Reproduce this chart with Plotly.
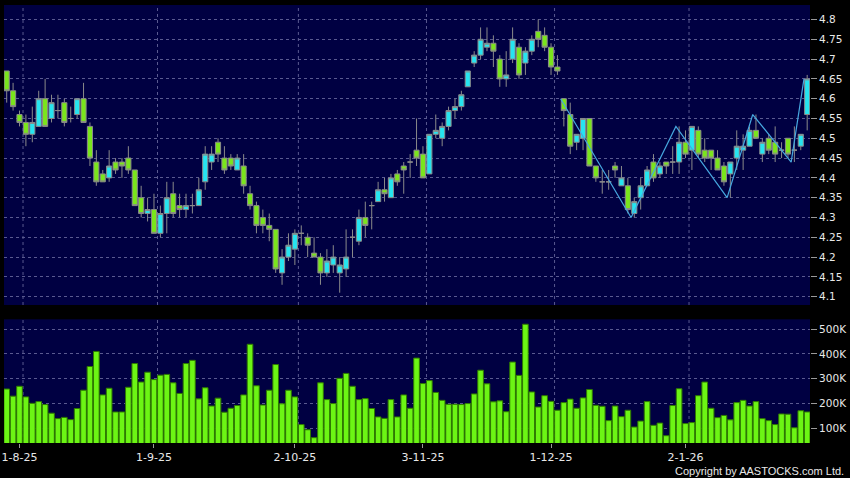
import plotly.graph_objects as go

# ---------------- data ----------------
opens = [4.67, 4.62, 4.56, 4.54, 4.51, 4.53, 4.60, 4.55, 4.57, 4.59,
         4.55, 4.56, 4.60, 4.53, 4.44, 4.41, 4.40, 4.44, 4.44, 4.45,
         4.42, 4.35, 4.31, 4.32, 4.26, 4.31, 4.36, 4.33, 4.32, 4.33,
         4.33, 4.39, 4.44, 4.49, 4.45, 4.45, 4.42, 4.43, 4.36, 4.33,
         4.30, 4.28, 4.27, 4.16, 4.20, 4.22, 4.26, 4.25, 4.21, 4.20,
         4.16, 4.18, 4.16, 4.17, 4.25, 4.24, 4.30, 4.33, 4.34, 4.37,
         4.35, 4.41, 4.43, 4.44, 4.47, 4.46, 4.41, 4.51, 4.50, 4.53,
         4.57, 4.58, 4.63, 4.69, 4.71, 4.73, 4.74, 4.70, 4.65, 4.70,
         4.73, 4.69, 4.72, 4.77, 4.76, 4.73, 4.68, 4.60, 4.56, 4.49,
         4.50, 4.55, 4.43, 4.39, 4.39, 4.43, 4.38, 4.38, 4.31, 4.35,
         4.38, 4.44, 4.41, 4.44, 4.44, 4.44, 4.49, 4.47, 4.52, 4.47,
         4.47, 4.45, 4.43, 4.41, 4.45, 4.47, 4.48, 4.52, 4.46, 4.50,
         4.49, 4.47, 4.50, 4.47, 4.48, 4.56]
highs = [4.67, 4.64, 4.57, 4.56, 4.58, 4.62, 4.65, 4.61, 4.61, 4.60,
         4.58, 4.60, 4.64, 4.54, 4.47, 4.42, 4.47, 4.45, 4.45, 4.48,
         4.42, 4.38, 4.35, 4.36, 4.33, 4.39, 4.39, 4.36, 4.36, 4.36,
         4.40, 4.48, 4.48, 4.50, 4.48, 4.46, 4.46, 4.46, 4.38, 4.34,
         4.32, 4.31, 4.27, 4.22, 4.26, 4.27, 4.28, 4.26, 4.25, 4.21,
         4.22, 4.23, 4.20, 4.27, 4.27, 4.32, 4.34, 4.34, 4.39, 4.40,
         4.41, 4.42, 4.44, 4.46, 4.55, 4.48, 4.51, 4.56, 4.54, 4.58,
         4.60, 4.62, 4.67, 4.72, 4.78, 4.78, 4.76, 4.71, 4.72, 4.78,
         4.74, 4.73, 4.76, 4.80, 4.78, 4.74, 4.71, 4.60, 4.59, 4.51,
         4.55, 4.55, 4.43, 4.42, 4.42, 4.44, 4.43, 4.40, 4.35, 4.40,
         4.43, 4.46, 4.44, 4.44, 4.48, 4.53, 4.52, 4.53, 4.53, 4.50,
         4.47, 4.47, 4.44, 4.44, 4.52, 4.51, 4.53, 4.56, 4.50, 4.51,
         4.53, 4.49, 4.50, 4.53, 4.51, 4.66]
lows = [4.59, 4.57, 4.53, 4.48, 4.49, 4.53, 4.53, 4.54, 4.55, 4.53,
        4.54, 4.55, 4.54, 4.43, 4.38, 4.39, 4.39, 4.41, 4.40, 4.41,
        4.33, 4.30, 4.29, 4.26, 4.25, 4.26, 4.30, 4.30, 4.30, 4.31,
        4.33, 4.37, 4.42, 4.44, 4.41, 4.42, 4.42, 4.36, 4.32, 4.26,
        4.26, 4.24, 4.16, 4.13, 4.19, 4.18, 4.23, 4.20, 4.20, 4.13,
        4.15, 4.16, 4.11, 4.15, 4.20, 4.23, 4.25, 4.27, 4.34, 4.34,
        4.35, 4.38, 4.36, 4.40, 4.43, 4.40, 4.41, 4.50, 4.48, 4.52,
        4.55, 4.57, 4.63, 4.68, 4.70, 4.72, 4.68, 4.63, 4.63, 4.69,
        4.65, 4.66, 4.71, 4.73, 4.72, 4.66, 4.66, 4.53, 4.46, 4.47,
        4.47, 4.43, 4.39, 4.36, 4.37, 4.40, 4.38, 4.31, 4.30, 4.32,
        4.38, 4.39, 4.40, 4.41, 4.41, 4.41, 4.45, 4.42, 4.45, 4.44,
        4.42, 4.42, 4.38, 4.35, 4.42, 4.42, 4.48, 4.50, 4.44, 4.46,
        4.44, 4.45, 4.45, 4.44, 4.47, 4.52]
closes = [4.62, 4.58, 4.54, 4.51, 4.54, 4.60, 4.53, 4.59, 4.57, 4.54,
          4.55, 4.60, 4.54, 4.45, 4.39, 4.39, 4.43, 4.42, 4.43, 4.42,
          4.33, 4.31, 4.32, 4.26, 4.31, 4.35, 4.31, 4.32, 4.33, 4.33,
          4.37, 4.46, 4.46, 4.46, 4.42, 4.43, 4.45, 4.38, 4.33, 4.28,
          4.28, 4.27, 4.17, 4.20, 4.23, 4.26, 4.26, 4.23, 4.20, 4.16,
          4.19, 4.20, 4.18, 4.20, 4.25, 4.30, 4.28, 4.33, 4.37, 4.36,
          4.40, 4.39, 4.42, 4.44, 4.45, 4.40, 4.51, 4.52, 4.53, 4.57,
          4.58, 4.61, 4.67, 4.71, 4.75, 4.74, 4.72, 4.65, 4.66, 4.75,
          4.66, 4.72, 4.75, 4.75, 4.73, 4.68, 4.67, 4.57, 4.48, 4.51,
          4.55, 4.43, 4.40, 4.39, 4.39, 4.42, 4.40, 4.32, 4.34, 4.38,
          4.42, 4.40, 4.43, 4.43, 4.44, 4.49, 4.46, 4.53, 4.46, 4.45,
          4.45, 4.42, 4.39, 4.44, 4.48, 4.48, 4.52, 4.50, 4.49, 4.47,
          4.46, 4.47, 4.46, 4.47, 4.51, 4.65]
volumes_k = [258, 229, 269, 226, 200, 207, 195, 160, 138, 143,
             134, 179, 253, 349, 410, 234, 261, 165, 165, 265,
             361, 286, 326, 296, 314, 317, 283, 240, 361, 374,
             218, 263, 189, 221, 164, 180, 191, 234, 439, 271,
             193, 253, 357, 198, 253, 226, 114, 93, 61, 283,
             215, 199, 301, 321, 269, 215, 219, 179, 145, 139,
             215, 145, 234, 180, 383, 280, 292, 244, 212, 196,
             196, 195, 199, 238, 334, 279, 206, 210, 166, 367,
             313, 520, 246, 185, 231, 208, 172, 203, 217, 180,
             222, 256, 192, 188, 130, 189, 146, 172, 104, 128,
             207, 111, 120, 69, 191, 259, 118, 122, 231, 286,
             180, 142, 151, 133, 203, 212, 189, 207, 138, 130,
             114, 157, 156, 101, 170, 165]

tick_idx = [2, 23, 45, 65, 85, 106]
tick_labels = ["1-8-25", "1-9-25", "2-10-25", "3-11-25", "1-12-25", "2-1-26"]

zz_idx = [87, 98, 105, 113, 117, 123, 125]
zz_price = [4.60, 4.30, 4.53, 4.35, 4.56, 4.44, 4.65]

price_ticks = [4.1, 4.15, 4.2, 4.25, 4.3, 4.35, 4.4, 4.45, 4.5, 4.55,
               4.6, 4.65, 4.7, 4.75, 4.8]
price_tick_labels = ["4.1", "4.15", "4.2", "4.25", "4.3", "4.35", "4.4",
                     "4.45", "4.5", "4.55", "4.6", "4.65", "4.7", "4.75", "4.8"]
vol_ticks_k = [100, 200, 300, 400, 500]
vol_tick_labels = ["100K", "200K", "300K", "400K", "500K"]

# ---------------- styles ----------------
BG = "#000042"
PAPER = "#000000"
GRID = "#5a5a90"
CYAN = "#26e4f0"
GREEN = "#7ae51c"
EDGE = "#8a8a8a"
VOLG = "#6cf514"
VOLEDGE = "#2f7a00"
ZZ = "#46a8e0"
TXT = "#e8e8e8"
FONT = "DejaVu Sans"

x = list(range(len(opens)))

fig = go.Figure()
fig.add_trace(go.Candlestick(
    x=x, open=opens, high=highs, low=lows, close=closes,
    increasing=dict(fillcolor=CYAN, line=dict(color=EDGE, width=1)),
    decreasing=dict(fillcolor=GREEN, line=dict(color=EDGE, width=1)),
    whiskerwidth=0, showlegend=False, hoverinfo="skip",
    xaxis="x", yaxis="y"))
fig.add_trace(go.Scatter(
    x=[i - 0.5 for i in zz_idx], y=zz_price, mode="lines",
    line=dict(color=ZZ, width=1.2), showlegend=False, hoverinfo="skip",
    xaxis="x", yaxis="y"))
fig.add_trace(go.Bar(
    x=x, y=[v * 1000 for v in volumes_k],
    marker=dict(color=VOLG, line=dict(color=VOLEDGE, width=1)),
    showlegend=False, hoverinfo="skip", xaxis="x2", yaxis="y2"))

xr = [-0.42, len(opens) - 1 + 0.44]

shapes = []
for t in tick_idx:
    for xa, ya in (("x", "y domain"), ("x2", "y2 domain")):
        shapes.append(dict(type="line", xref=xa, yref=ya, x0=t + 0.55, x1=t + 0.55,
                           y0=0, y1=1, layer="below",
                           line=dict(color=GRID, width=1, dash="3px,3px")))

fig.update_layout(
    width=850, height=478,
    paper_bgcolor=PAPER, plot_bgcolor=BG,
    margin=dict(l=4, r=40, t=5, b=35, autoexpand=False),
    showlegend=False, boxgap=0.2, boxgroupgap=0, bargap=0.12,
    font=dict(family=FONT, color=TXT, size=11),
    shapes=shapes,
    xaxis=dict(domain=[0, 1], anchor="y", range=xr, showticklabels=False,
               showgrid=False, zeroline=False, ticks="",
               rangeslider=dict(visible=False), fixedrange=True),
    yaxis=dict(domain=[0.3151, 1], anchor="x", side="right",
               range=[4.079, 4.8366], tickmode="array",
               tickvals=price_ticks, ticktext=price_tick_labels,
               showgrid=True, gridcolor=GRID, griddash="3px,3px", gridwidth=1,
               zeroline=False, ticks="outside", ticklen=6, tickcolor="#9a9a9a",
               tickfont=dict(family=FONT, size=10.5, color=TXT)),
    xaxis2=dict(domain=[0, 1], anchor="y2", range=xr, matches="x",
                tickmode="array", tickvals=tick_idx, ticktext=tick_labels,
                showgrid=False, zeroline=False, ticks="outside", ticklen=4,
                tickcolor="#9a9a9a",
                tickfont=dict(family=FONT, size=11, color=TXT)),
    yaxis2=dict(domain=[0, 0.2824], anchor="x2", side="right",
                range=[39400, 540000], tickmode="array",
                tickvals=[v * 1000 for v in vol_ticks_k], ticktext=vol_tick_labels,
                showgrid=True, gridcolor=GRID, griddash="3px,3px", gridwidth=1,
                zeroline=False, ticks="outside", ticklen=6, tickcolor="#9a9a9a",
                tickfont=dict(family=FONT, size=10.5, color=TXT)),
    annotations=[dict(text="Copyright by AASTOCKS.com Ltd.", xref="paper", yref="paper",
                      x=1.0447, y=-0.064, xanchor="right", yanchor="middle",
                      showarrow=False, font=dict(family="Liberation Sans", size=11, color=TXT))],
)

fig.write_html("out.html", config={"displayModeBar": False},
               post_script="document.body.style.margin='0';document.body.style.padding='0';"
                           "document.body.style.background='#000';")
